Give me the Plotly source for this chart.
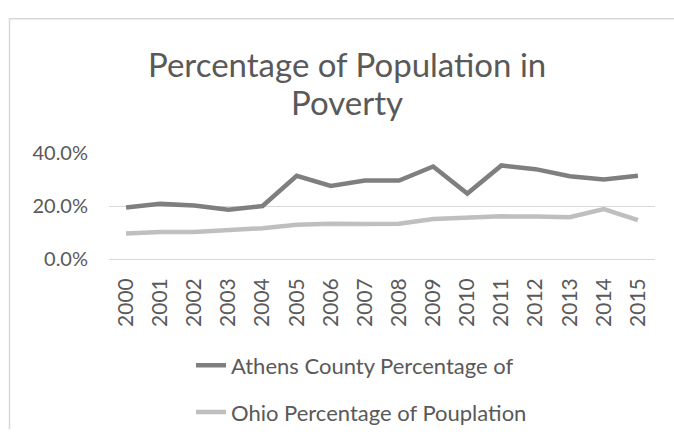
import plotly.graph_objects as go

years = [str(y) for y in range(2000, 2016)]
athens = [19.4, 20.8, 20.2, 18.6, 20.0, 31.4, 27.6, 29.6, 29.6, 34.9, 24.7, 35.3, 33.9, 31.2, 30.0, 31.4]
ohio = [9.6, 10.2, 10.2, 10.8, 11.6, 12.9, 13.3, 13.2, 13.3, 15.1, 15.6, 16.1, 16.0, 15.8, 18.8, 14.7]
series_names = ["Athens County Percentage of", "Ohio Percentage of Pouplation"]
title_lines = ["Percentage of Population in", "Poverty"]

W, H = 674, 446
# plot area in pixel coordinates
X0, X1, Y0, Y1 = 109, 655, 153, 267
L, R, T, B = X0, W - X1, Y0, H - Y1
pw, ph = W - L - R, H - T - B

def px(x):
    return (x - L) / pw

def py(y):
    return (H - B - y) / ph

FONT = "Lato"
TXT = "#595959"

fig = go.Figure()
fig.add_trace(go.Scatter(x=years, y=athens, mode="lines", name=series_names[0],
                         line=dict(color="#7F7F7F", width=4.5), legendgroup="a"))
fig.add_trace(go.Scatter(x=years, y=ohio, mode="lines", name=series_names[1],
                         line=dict(color="#BFBFBF", width=4.5), legendgroup="b"))

fig.update_layout(
    width=W, height=H,
    margin=dict(l=L, r=R, t=T, b=B),
    paper_bgcolor="white", plot_bgcolor="white",
    font=dict(family=FONT, color=TXT, size=20),
    showlegend=True,
    hovermode=False,
    legend=dict(x=px(191), xanchor="left", y=py(359), yanchor="top",
                font=dict(size=22, color=TXT), tracegroupgap=15,
                traceorder="grouped", bgcolor="rgba(0,0,0,0)"),
    xaxis=dict(type="category", tickangle=-90, showgrid=False, showline=False,
               ticks="", tickfont=dict(size=21, color=TXT), ticklabelstandoff=14,
               range=[-0.5, 15.5]),
    yaxis=dict(range=[0, 40], dtick=20, tickformat=".1f", ticksuffix="%",
               showgrid=True, gridcolor="#D9D9D9", gridwidth=1,
               zeroline=True, zerolinecolor="#D9D9D9", zerolinewidth=1,
               showline=False, ticks="", tickfont=dict(size=20, color=TXT),
               ticklabelstandoff=20),
    annotations=[
        dict(text=title_lines[0], xref="paper", yref="paper", x=px(347), y=py(57),
             xanchor="center", yanchor="middle", showarrow=False,
             font=dict(size=33, color=TXT, family=FONT)),
        dict(text=title_lines[1], xref="paper", yref="paper", x=px(347), y=py(98),
             xanchor="center", yanchor="middle", showarrow=False,
             font=dict(size=33, color=TXT, family=FONT)),
    ],
    shapes=[
        dict(type="line", xref="paper", yref="paper", x0=px(9), x1=px(680), y0=py(8.5), y1=py(8.5),
             line=dict(color="#D9D9D9", width=1.5), layer="below"),
        dict(type="line", xref="paper", yref="paper", x0=px(9.5), x1=px(9.5), y0=py(8), y1=py(450),
             line=dict(color="#D9D9D9", width=1.5), layer="below"),
    ],
)

fig.write_html(
    "out.html",
    config={"displayModeBar": False},
    post_script="document.body.style.margin='0';document.body.style.overflow='hidden';",
)
